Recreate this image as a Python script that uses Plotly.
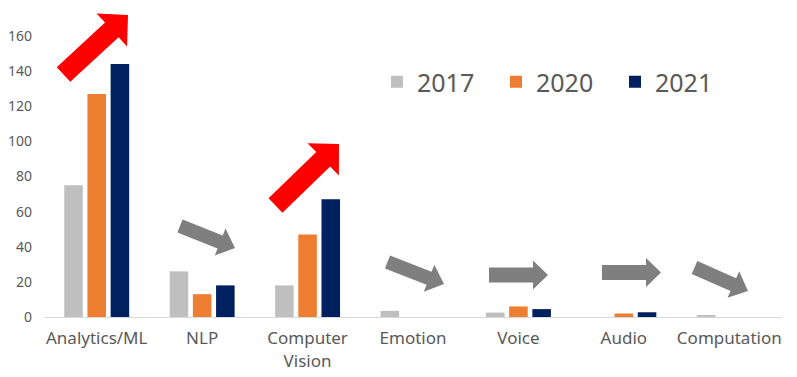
import plotly.graph_objects as go
import math

categories = ["Analytics/ML", "NLP", "Computer<br>Vision", "Emotion", "Voice", "Audio", "Computation"]
series_names = ["2017", "2020", "2021"]
values_2017 = [75, 26, 18, 3.5, 2.5, 0, 0.8]
values_2020 = [127, 13, 47, 0, 6, 2, 0]
values_2021 = [144, 18, 67, 0, 4.5, 2.7, 0]
y_ticks = [0, 20, 40, 60, 80, 100, 120, 140, 160]

colors = ["#BFBFBF", "#ED7D31", "#002060"]
TEXT = "#595959"
FONT = "Noto Sans"

OFF = 8  # page body margin
W, H = 797 - OFF, 377 - OFF
ML, MR, MT, MB = 44 - OFF, 15, 36 - OFF, 60
PW, PH = W - ML - MR, H - MT - MB

fig = go.Figure()
for name, vals, col in zip(series_names, [values_2017, values_2020, values_2021], colors):
    fig.add_trace(go.Bar(x=categories, y=vals, name=name, marker=dict(color=col, line=dict(width=0))))

# decorative block arrows (page-pixel geometry -> paper coords)
def px2paper(px, py):
    return (px - OFF - ML) / PW, (MT + PH - (py - OFF)) / PH

def arrow_path(tail, tip, shaft_w, head_w, head_len):
    tx, ty = tail
    hx, hy = tip
    L = math.hypot(hx - tx, hy - ty)
    ux, uy = (hx - tx) / L, (hy - ty) / L
    nx, ny = -uy, ux
    bx, by = hx - ux * head_len, hy - uy * head_len
    pts = [
        (tx + nx * shaft_w / 2, ty + ny * shaft_w / 2),
        (bx + nx * shaft_w / 2, by + ny * shaft_w / 2),
        (bx + nx * head_w / 2, by + ny * head_w / 2),
        (hx, hy),
        (bx - nx * head_w / 2, by - ny * head_w / 2),
        (bx - nx * shaft_w / 2, by - ny * shaft_w / 2),
        (tx - nx * shaft_w / 2, ty - ny * shaft_w / 2),
    ]
    pp = [px2paper(x, y) for x, y in pts]
    return "M" + " L".join(f"{x:.5f},{y:.5f}" for x, y in pp) + " Z"

arrows = [
    ((63.5, 74.5), (128, 15), 20, 45, 22, "#FF0000"),
    ((275.5, 205.5), (339, 144), 20, 45, 22, "#FF0000"),
    ((180, 226), (235, 248), 14, 29, 16, "#7F7F7F"),
    ((387.5, 262), (444, 284), 14, 29, 16, "#7F7F7F"),
    ((489, 275), (548, 275), 15, 29, 15, "#7F7F7F"),
    ((602, 272.5), (661, 272.5), 15, 29, 15, "#7F7F7F"),
    ((694.5, 267.5), (748, 291), 14, 29, 16, "#7F7F7F"),
]
for tail, tip, sw, hw, hl, col in arrows:
    fig.add_shape(type="path", xref="paper", yref="paper", path=arrow_path(tail, tip, sw, hw, hl),
                  fillcolor=col, line=dict(width=0), layer="above")

lx, ly = px2paper(377, 82)
fig.update_layout(
    width=W, height=H,
    margin=dict(l=ML, r=MR, t=MT, b=MB, autoexpand=False),
    paper_bgcolor="white", plot_bgcolor="white",
    barmode="group", bargap=0.34, bargroupgap=0.2,
    font=dict(family=FONT, color=TEXT),
    showlegend=True,
    legend=dict(orientation="h", x=lx, xanchor="left", y=ly, yanchor="middle",
                font=dict(size=25, color=TEXT, family=FONT), entrywidth=74, entrywidthmode="pixels",
                bgcolor="rgba(0,0,0,0)", traceorder="normal"),
    xaxis=dict(showgrid=False, showline=True, linecolor="#D9D9D9", linewidth=1, ticks="",
               tickfont=dict(size=17, color=TEXT, family=FONT), ticklabelstandoff=6),
    yaxis=dict(range=[0, 160], tickvals=y_ticks, showgrid=False, zeroline=False, showline=False,
               ticks="", tickfont=dict(size=14, color=TEXT, family=FONT), ticklabelstandoff=11),
)

fig.write_html("out.html")
